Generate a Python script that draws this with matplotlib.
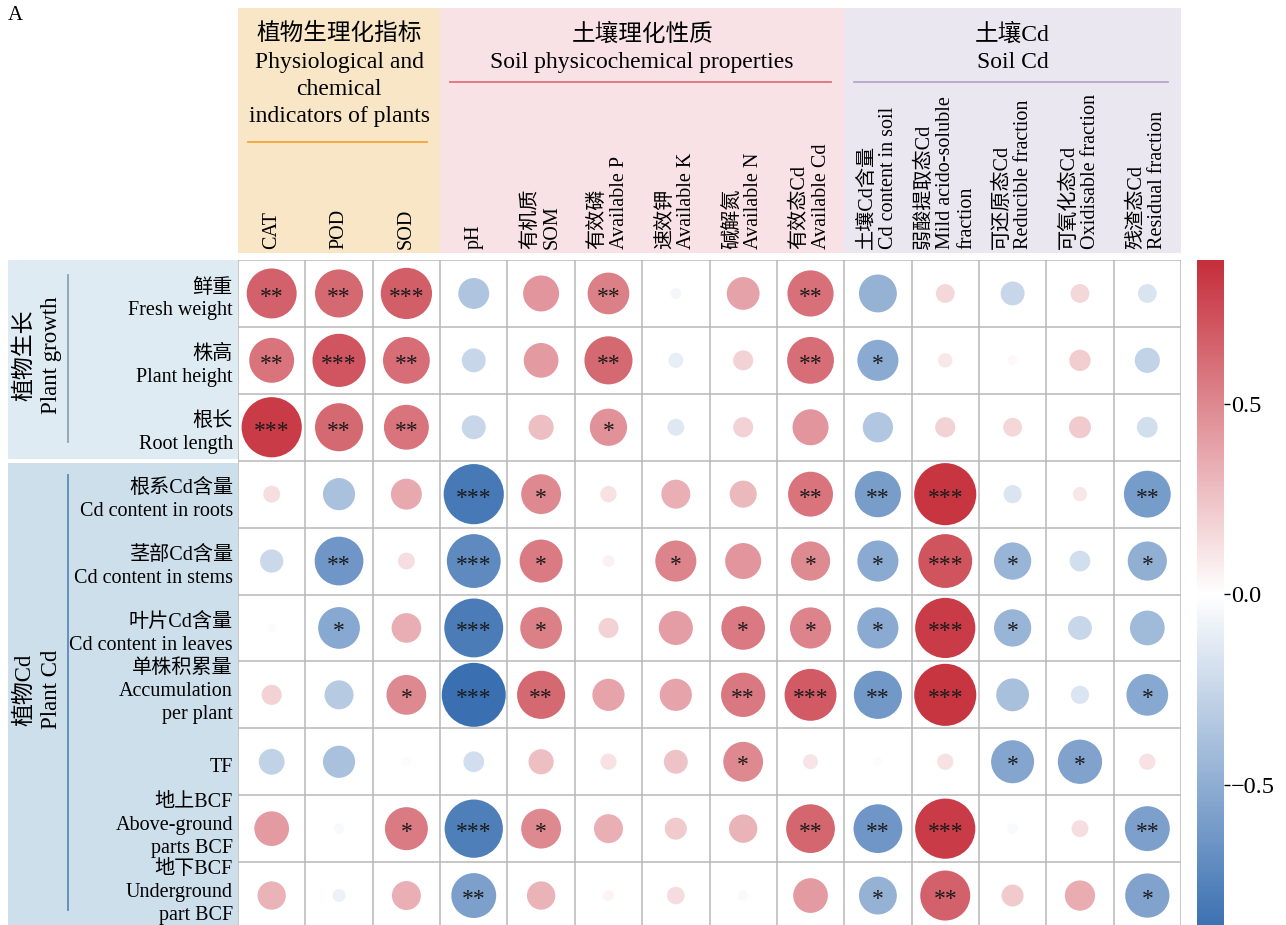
import matplotlib
matplotlib.use("Agg")
import matplotlib.pyplot as plt
import numpy as np
from matplotlib.cm import ScalarMappable
from matplotlib.colors import LinearSegmentedColormap, Normalize
from matplotlib.patches import Rectangle
from matplotlib.ticker import FuncFormatter

plt.rcParams["font.family"] = ["Liberation Serif", "Noto Sans CJK SC"]

# ---- data ---------------------------------------------------------------
col_labels = [
    "CAT", "POD", "SOD", "pH",
    "有机质\nSOM", "有效磷\nAvailable P", "速效钾\nAvailable K",
    "碱解氮\nAvailable N", "有效态Cd\nAvailable Cd",
    "土壤Cd含量\nCd content in soil",
    "弱酸提取态Cd\nMild acido-soluble\nfraction",
    "可还原态Cd\nReducible fraction",
    "可氧化态Cd\nOxidisable fraction",
    "残渣态Cd\nResidual fraction",
]
row_labels = [
    "鲜重\nFresh weight", "株高\nPlant height", "根长\nRoot length",
    "根系Cd含量\nCd content in roots", "茎部Cd含量\nCd content in stems",
    "叶片Cd含量\nCd content in leaves", "单株积累量\nAccumulation\nper plant",
    "TF", "地上BCF\nAbove-ground\nparts BCF", "地下BCF\nUnderground\npart BCF",
]

# column groups: title, first column, number of columns
col_groups = [
    ("植物生理化指标\nPhysiological and\nchemical\nindicators of plants", 0, 3),
    ("土壤理化性质\nSoil physicochemical properties", 3, 6),
    ("土壤Cd\nSoil Cd", 9, 5),
]
# row groups: title, first row, number of rows
row_groups = [
    ("植物生长\nPlant growth", 0, 3),
    ("植物Cd\nPlant Cd", 3, 7),
]

corr = np.array([
    [0.66, 0.63, 0.68, -0.36, 0.44, 0.53, -0.05, 0.39, 0.60, -0.47, 0.17, -0.25, 0.17, -0.17],
    [0.58, 0.71, 0.61, -0.25, 0.42, 0.63, -0.11, 0.19, 0.61, -0.52, 0.10, 0.03, 0.21, -0.27],
    [0.82, 0.63, 0.58, -0.25, 0.27, 0.46, -0.14, 0.19, 0.44, -0.35, 0.19, 0.17, 0.22, -0.20],
    [0.14, -0.38, 0.36, -0.82, 0.50, 0.13, 0.33, 0.30, 0.58, -0.60, 0.85, -0.16, 0.10, -0.61],
    [-0.24, -0.64, 0.14, -0.72, 0.55, 0.06, 0.52, 0.44, 0.49, -0.52, 0.72, -0.46, -0.20, -0.49],
    [0.02, -0.53, 0.34, -0.80, 0.53, 0.19, 0.41, 0.56, 0.52, -0.52, 0.82, -0.46, -0.25, -0.42],
    [0.19, -0.33, 0.50, -0.88, 0.63, 0.38, 0.38, 0.57, 0.69, -0.63, 0.85, -0.39, -0.16, -0.53],
    [-0.28, -0.38, 0.02, -0.20, 0.27, 0.13, 0.25, 0.50, 0.11, -0.02, 0.13, -0.55, -0.57, 0.13],
    [0.42, -0.04, 0.55, -0.79, 0.50, 0.33, 0.22, 0.32, 0.64, -0.64, 0.82, -0.04, 0.14, -0.58],
    [0.32, -0.08, 0.33, -0.58, 0.32, 0.05, 0.15, 0.03, 0.42, -0.47, 0.66, 0.22, 0.35, -0.57],
])

stars = [
    ["**", "**", "***", "", "", "**", "", "", "**", "", "", "", "", ""],
    ["**", "***", "**", "", "", "**", "", "", "**", "*", "", "", "", ""],
    ["***", "**", "**", "", "", "*", "", "", "", "", "", "", "", ""],
    ["", "", "", "***", "*", "", "", "", "**", "**", "***", "", "", "**"],
    ["", "**", "", "***", "*", "", "*", "", "*", "*", "***", "*", "", "*"],
    ["", "*", "", "***", "*", "", "", "*", "*", "*", "***", "*", "", ""],
    ["", "", "*", "***", "**", "", "", "**", "***", "**", "***", "", "", "*"],
    ["", "", "", "", "", "", "", "*", "", "", "", "*", "*", ""],
    ["", "", "*", "***", "*", "", "", "", "**", "**", "***", "", "", "**"],
    ["", "", "", "**", "", "", "", "", "", "*", "**", "", "", "*"],
]

# ---- styling --------------------------------------------------------------
W, H = 1286, 925
group_fill = ["#F8E6C6", "#F8E2E5", "#EBE7F0"]
group_line = ["#F2A53A", "#E0707C", "#B6A6CC"]
panel_fill = ["#DFEBF2", "#CEDFEC"]
panel_line = ["#8EA3B3", "#5A8BB8"]
cmap = LinearSegmentedColormap.from_list(
    "bwr_soft", ["#3A70B1", "#FFFFFF", "#C52E3B"])
vmax = np.abs(corr).max()
norm = Normalize(-vmax, vmax)

fig = plt.figure(figsize=(W / 100, H / 100), dpi=100)


def px_axes(x0, y0, x1, y1):
    """Axes placed by pixel box (top-left origin)."""
    a = fig.add_axes([x0 / W, 1 - y1 / H, (x1 - x0) / W, (y1 - y0) / H])
    a.set_axis_off()
    return a


nrow, ncol = corr.shape
gx0, gx1, gy0, gy1 = 238, 1181, 260, 929
cell = (gx1 - gx0) / ncol

# ---- circle grid ------------------------------------------------------------
ax = px_axes(gx0, gy0, gx1, gy1)
ax.set_xlim(0, ncol)
ax.set_ylim(nrow, 0)
ax.add_patch(Rectangle((0, 0), ncol, nrow, facecolor="white", edgecolor="none"))
for k in range(ncol + 1):
    ax.plot([k, k], [0, nrow], color="#B8B8B8", lw=1.1, zorder=1)
for k in range(nrow + 1):
    ax.plot([0, ncol], [k, k], color="#B8B8B8", lw=1.1, zorder=1)

yy, xx = np.mgrid[0:nrow, 0:ncol]
diam_px = 8 + (cell * 0.95 - 8) * np.abs(corr) / vmax
ax.scatter(xx.ravel() + 0.5, yy.ravel() + 0.5, s=(diam_px.ravel() * 0.72) ** 2,
           c=corr.ravel(), cmap=cmap, norm=norm, linewidths=0, zorder=2)
for i in range(nrow):
    for j in range(ncol):
        if stars[i][j]:
            ax.text(j + 0.5, i + 0.56, stars[i][j], ha="center", va="center",
                    fontsize=17, color="#1a1a1a", zorder=3)

# ---- column header -------------------------------------------------------
hax = px_axes(gx0, 0, gx1, gy0)
hax.set_xlim(0, ncol)
hax.set_ylim(gy0, 0)
for g, (title, start, span) in enumerate(col_groups):
    hax.add_patch(Rectangle((start, 8), span, 245, facecolor=group_fill[g],
                            edgecolor="none"))
    hax.text(start + span / 2, 23, title, ha="center", va="top", fontsize=17,
             linespacing=1.4)
    ly = 142 if title.count("\n") > 2 else 82
    hax.plot([start + 0.15, start + span - 0.2], [ly, ly], color=group_line[g],
             lw=1.3)
for j, lab in enumerate(col_labels):
    hax.text(j + 0.5, 249, lab, rotation=90, ha="center", va="bottom",
             multialignment="left", fontsize=14.5, linespacing=1.15)

# ---- row header ------------------------------------------------------------
lax = px_axes(0, gy0, gx0, gy1)
lax.set_xlim(0, gx0)
lax.set_ylim(nrow, 0)
for g, (title, start, span) in enumerate(row_groups):
    top = start + (0.03 if start else 0)
    lax.add_patch(Rectangle((8, top), gx0 - 8, start + span - top - 0.03,
                            facecolor=panel_fill[g], edgecolor="none"))
    lax.plot([68, 68], [start + 0.22, start + span - 0.28], color=panel_line[g],
             lw=1.3)
    lax.text(38, start + span / 2 - 0.08, title, rotation=90, ha="center",
             va="center", multialignment="center", fontsize=16.5,
             linespacing=1.35)
for i, lab in enumerate(row_labels):
    dy = 0.09 if lab.count("\n") < 2 else -0.05
    lax.text(233, i + 0.5 + dy, lab, ha="right", va="center", fontsize=14.5,
             linespacing=1.28)

# ---- colour bar ----------------------------------------------------------
cax = fig.add_axes([1197 / W, 1 - gy1 / H, 27 / W, (gy1 - gy0) / H])
cb = fig.colorbar(ScalarMappable(norm=norm, cmap=cmap), cax=cax)
cb.outline.set_visible(False)
cb.set_ticks([-0.5, 0.0, 0.5])
cb.ax.yaxis.set_major_formatter(
    FuncFormatter(lambda v, _: f"{v + 0.0:.1f}".replace("-", "\u2212")))
cb.ax.tick_params(length=4, width=1, labelsize=17.5, pad=1)

fig.text(8 / W, 1 - 6 / H, "A", ha="left", va="top", fontsize=15)

fig.savefig("out.png", dpi=100)
